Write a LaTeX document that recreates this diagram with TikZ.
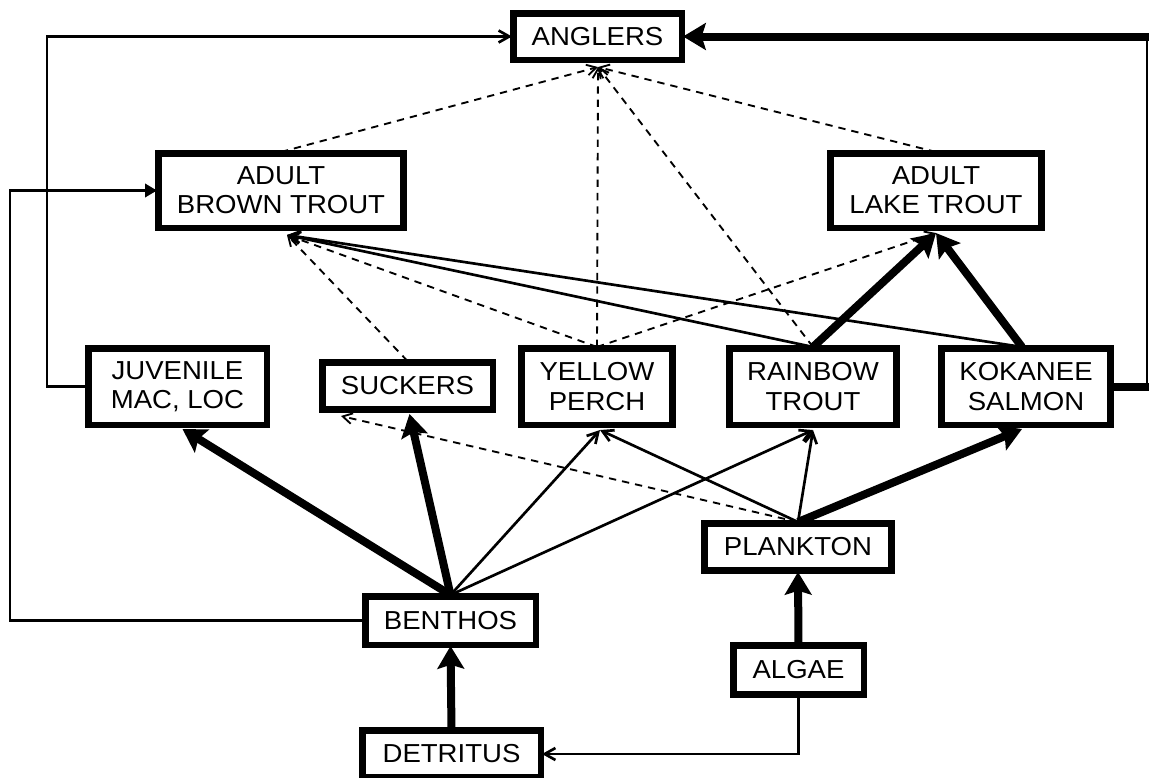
\documentclass[tikz,border=0pt]{standalone}
\usepackage{fontspec}
\setmainfont{Liberation Sans}[FakeStretch=1.06]
\usetikzlibrary{arrows.meta,calc}
\begin{document}
\begin{tikzpicture}[x=0.75pt,y=-0.75pt,
  box/.style={draw,line width=3.4pt,inner sep=0pt,align=center,fill=white,
    font=\fontsize{19.5pt}{22pt}\selectfont},
  heavy/.style={line width=6pt,-{Stealth[length=17pt,width=20pt,inset=3pt]}},
  heavyline/.style={line width=6pt},
  light/.style={line width=2pt,-{Straight Barb[length=8pt,width=9pt]}},
  elbowline/.style={line width=2pt},
  dashy/.style={line width=1.4pt,dash pattern=on 5.5pt off 4.5pt,-{Straight Barb[length=7pt,width=8pt]}}
]
\useasboundingbox (0,0) rectangle (1150,778);
\fill[white] (0,0) rectangle (1150,778);

% connectors first (boxes drawn on top later)
\coordinate (jx) at (47,200);
\coordinate (lx) at (10,400);
\coordinate (kx) at (1147,200);

% nodes (declared in a scope to position, drawn later)
\begin{scope}
\node[box,minimum width=124.9pt,minimum height=33.4pt] (anglers) at (597.5,36.5) {ANGLERS};
\node[box,minimum width=182.6pt,minimum height=54.4pt] (brown) at (281,190.5) {ADULT\\BROWN TROUT};
\node[box,minimum width=157.1pt,minimum height=54.4pt] (lake) at (936,190.5) {ADULT\\LAKE TROUT};
\node[box,minimum width=132.4pt,minimum height=55.9pt] (juvenile) at (177.5,386.5) {JUVENILE\\MAC, LOC};
\node[box,minimum width=126.4pt,minimum height=34.1pt] (suckers) at (407.5,386) {SUCKERS};
\node[box,minimum width=112.1pt,minimum height=55.9pt] (yellow) at (597,386.5) {YELLOW\\PERCH};
\node[box,minimum width=124.1pt,minimum height=55.9pt] (rainbow) at (813,386.5) {RAINBOW\\TROUT};
\node[box,minimum width=125.6pt,minimum height=55.9pt] (kokanee) at (1026,386.5) {KOKANEE\\SALMON};
\node[box,minimum width=139.1pt,minimum height=34.1pt] (plankton) at (798,547) {PLANKTON};
\node[box,minimum width=126.4pt,minimum height=34.9pt] (benthos) at (450.5,620.5) {BENTHOS};
\node[box,minimum width=96.4pt,minimum height=35.6pt] (algae) at (798.5,670) {ALGAE};
\node[box,minimum width=132.4pt,minimum height=34.1pt] (detritus) at (451.5,754) {DETRITUS};
\end{scope}

\coordinate (angIn) at ($(anglers.south)+(0.5,6)$);
\coordinate (bIn) at ($(brown.south)+(6,6)$);
\coordinate (lIn) at ($(lake.south)+(0,4)$);
\coordinate (kTop) at ($(kokanee.north)+(-4,0)$);
\coordinate (yBot) at ($(yellow.south)+(3,4)$);
\coordinate (rBot) at ($(rainbow.south)+(0,4)$);
\coordinate (kBot) at ($(kokanee.south)+(-4,3)$);
\coordinate (sBot) at ($(suckers.south)+(2,3)$);
\coordinate (sBotL) at ($(suckers.south west)+(20,5)$);
\coordinate (jBot) at ($(juvenile.south)+(5,3)$);

% dashed arrows to anglers
\draw[dashy] (brown.north) -- (angIn);
\draw[dashy] (lake.north) -- (angIn);
\draw[dashy] (yellow.north) -- (angIn);
\draw[dashy] (rainbow.north) -- (angIn);

% to brown trout
\draw[dashy] (suckers.north) -- (bIn);
\draw[dashy] (yellow.north) -- (bIn);
\draw[light] (rainbow.north) -- (bIn);
\draw[light] (kTop) -- (bIn);

% to lake trout
\draw[dashy] (yellow.north) -- (lIn);
\draw[heavy] (rainbow.north) -- (lIn);
\draw[heavy] (kTop) -- (lIn);

% from plankton
\draw[heavy] (plankton.north) -- (kBot);
\draw[light] (plankton.north) -- (rBot);
\draw[light] (plankton.north) -- (yBot);
\draw[dashy] (plankton.north) -- (sBotL);

% from benthos
\draw[heavy] (benthos.north) -- (jBot);
\draw[heavy] (benthos.north) -- (sBot);
\draw[light] (benthos.north) -- (yBot);
\draw[light] (benthos.north) -- (rBot);

% vertical feeds
\draw[heavy] (detritus.north) -- (benthos.south);
\draw[heavy] (algae.north) -- (plankton.south);
\draw[light] (algae.south) |- (detritus.east);

% elbows
\draw[elbowline,-{Triangle[length=9pt,width=10pt]}] (benthos.west) -| (lx) |- (brown.west);
\draw[light] (juvenile.west) -| (jx) |- (anglers.west);
\draw[heavyline] (kokanee.east) -- ($(kokanee.east -| kx)+(1.5,0)$);
\draw[elbowline] (kokanee.east -| kx) -- (anglers.east -| kx);
\draw[heavy] ($(anglers.east -| kx)+(1.5,0)$) -- (anglers.east);

% redraw boxes on top
\foreach \n in {anglers,brown,lake,juvenile,suckers,yellow,rainbow,kokanee,plankton,benthos,algae,detritus}{
  \draw[line width=3.4pt] (\n.south west) rectangle (\n.north east);
}
\end{tikzpicture}
\end{document}
